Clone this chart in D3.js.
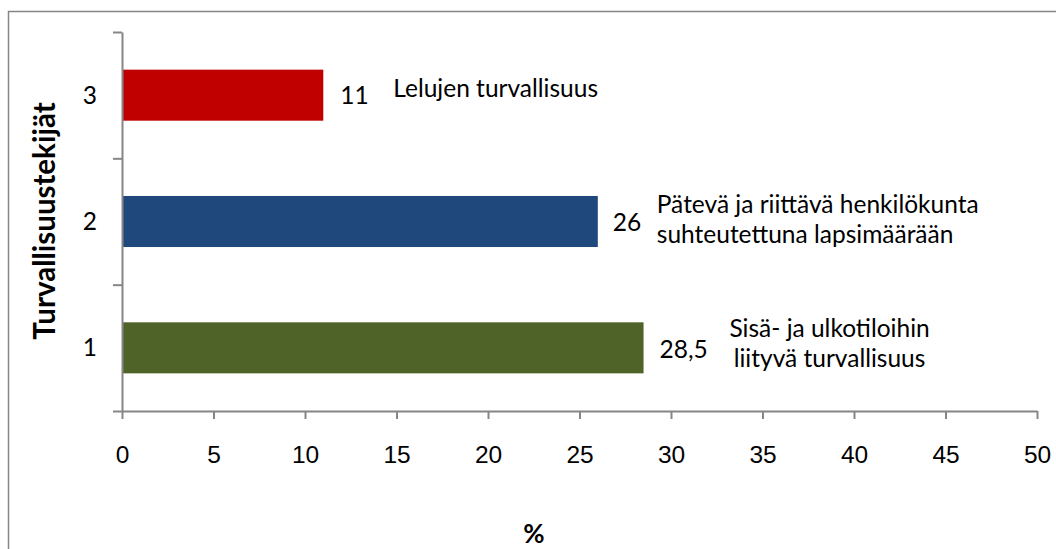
<!DOCTYPE html>
<html>
<head>
<meta charset="utf-8">
<script src="https://cdn.jsdelivr.net/npm/d3@7"></script>
<style>
  body { margin: 0; background: #fff; }
  svg { display: block; font-family: Lato, "Open Sans", sans-serif; }
</style>
</head>
<body>
<script>
// chart data
var categories = ["1", "2", "3"];
var values = [28.5, 26, 11];
var barColors = ["#4f6228", "#1f497d", "#c00000"];
var valueLabels = ["28,5", "26", "11"];
var notes = [
  ["Sisä- ja ulkotiloihin", "liityvä turvallisuus"],
  ["Pätevä ja riittävä henkilökunta", "suhteutettuna lapsimäärään"],
  ["Lelujen turvallisuus"]
];
var xTicks = [0, 5, 10, 15, 20, 25, 30, 35, 40, 45, 50];

// set the dimensions and margins of the graph
var W = 1056, H = 549;
var margin = {top: 32, right: 19, bottom: 138, left: 122},
    width = W - margin.left - margin.right,
    height = H - margin.top - margin.bottom;

var axisColor = "#868686";
var fontSize = 24.5;

var svg = d3.select("body").append("svg")
    .attr("width", W)
    .attr("height", H);

// outer chart border (runs off the right and bottom edge)
svg.append("rect")
    .attr("x", 8.5).attr("y", 11.5)
    .attr("width", 1200).attr("height", 800)
    .attr("fill", "none")
    .attr("stroke", axisColor)
    .attr("stroke-width", 1.5);

var g = svg.append("g")
    .attr("transform", "translate(" + margin.left + "," + margin.top + ")");

// set the ranges
var x = d3.scaleLinear().domain([0, 50]).range([0, width]);
var y = d3.scaleBand().domain(categories.slice().reverse()).range([0, height])
    .paddingInner(0.596).paddingOuter(0.298);
// band boundaries for the category tick marks
var yEdge = d3.scaleLinear().domain([0, categories.length]).range([height, 0]);

// bars
g.selectAll(".bar")
    .data(categories)
  .enter().append("rect")
    .attr("class", "bar")
    .attr("x", 0)
    .attr("y", function(d) { return y(d); })
    .attr("width", function(d, i) { return x(values[i]); })
    .attr("height", y.bandwidth())
    .attr("fill", function(d, i) { return barColors[i]; });

// X axis
var xAxis = g.append("g")
    .attr("transform", "translate(0," + height + ")")
    .call(d3.axisBottom(x).tickValues(xTicks).tickSize(8).tickSizeOuter(0).tickPadding(27));
xAxis.selectAll("text").style("font-size", fontSize + "px").attr("fill", "#000");

// Y axis (ticks between categories)
var yAxis = g.append("g")
    .call(d3.axisLeft(yEdge).tickValues([0, 1, 2, 3]).tickFormat("").tickSize(9).tickSizeOuter(0));

[xAxis, yAxis].forEach(function(a) {
  a.select(".domain").attr("stroke", axisColor).attr("stroke-width", 2);
  a.selectAll(".tick line").attr("stroke", axisColor).attr("stroke-width", 2);
});

// category labels
g.selectAll(".cat")
    .data(categories)
  .enter().append("text")
    .attr("class", "cat")
    .attr("x", -25)
    .attr("y", function(d) { return y(d) + y.bandwidth() / 2; })
    .attr("dy", "0.35em")
    .attr("text-anchor", "end")
    .style("font-size", fontSize + "px")
    .text(function(d) { return d; });

// value labels
var valueGap = [16, 15, 17];
g.selectAll(".val")
    .data(categories)
  .enter().append("text")
    .attr("class", "val")
    .attr("x", function(d, i) { return x(values[i]) + valueGap[i]; })
    .attr("y", function(d) { return y(d) + y.bandwidth() / 2; })
    .attr("dy", function(d, i) { return i === 2 ? "0.35em" : "0.4em"; })
    .style("font-size", fontSize + "px")
    .text(function(d, i) { return valueLabels[i]; });

// note texts next to the value labels
var noteLayout = [
  {dx: 186, anchor: "middle", top: -11},
  {dx: 59, anchor: "start", top: -9},
  {dx: 70, anchor: "start", top: 2}
];
g.selectAll(".note")
    .data(categories)
  .enter().append("text")
    .attr("class", "note")
    .attr("text-anchor", function(d, i) { return noteLayout[i].anchor; })
    .style("font-size", fontSize + "px")
    .each(function(d, i) {
      var t = d3.select(this);
      var cx = x(values[i]) + noteLayout[i].dx;
      var cy = y(d) + y.bandwidth() / 2 + noteLayout[i].top;
      notes[i].forEach(function(line, k) {
        t.append("tspan")
          .attr("x", cx)
          .attr("y", cy + k * 30.5)
          .text(line);
      });
    });

// axis titles
svg.append("text")
    .attr("transform", "translate(55,221) rotate(-90)")
    .attr("text-anchor", "middle")
    .style("font-size", "29.5px")
    .style("font-weight", "bold")
    .text("Turvallisuustekijät");

svg.append("text")
    .attr("x", 534)
    .attr("y", 543)
    .attr("text-anchor", "middle")
    .style("font-size", "26px")
    .style("font-weight", "bold")
    .text("%");
</script>
</body>
</html>
